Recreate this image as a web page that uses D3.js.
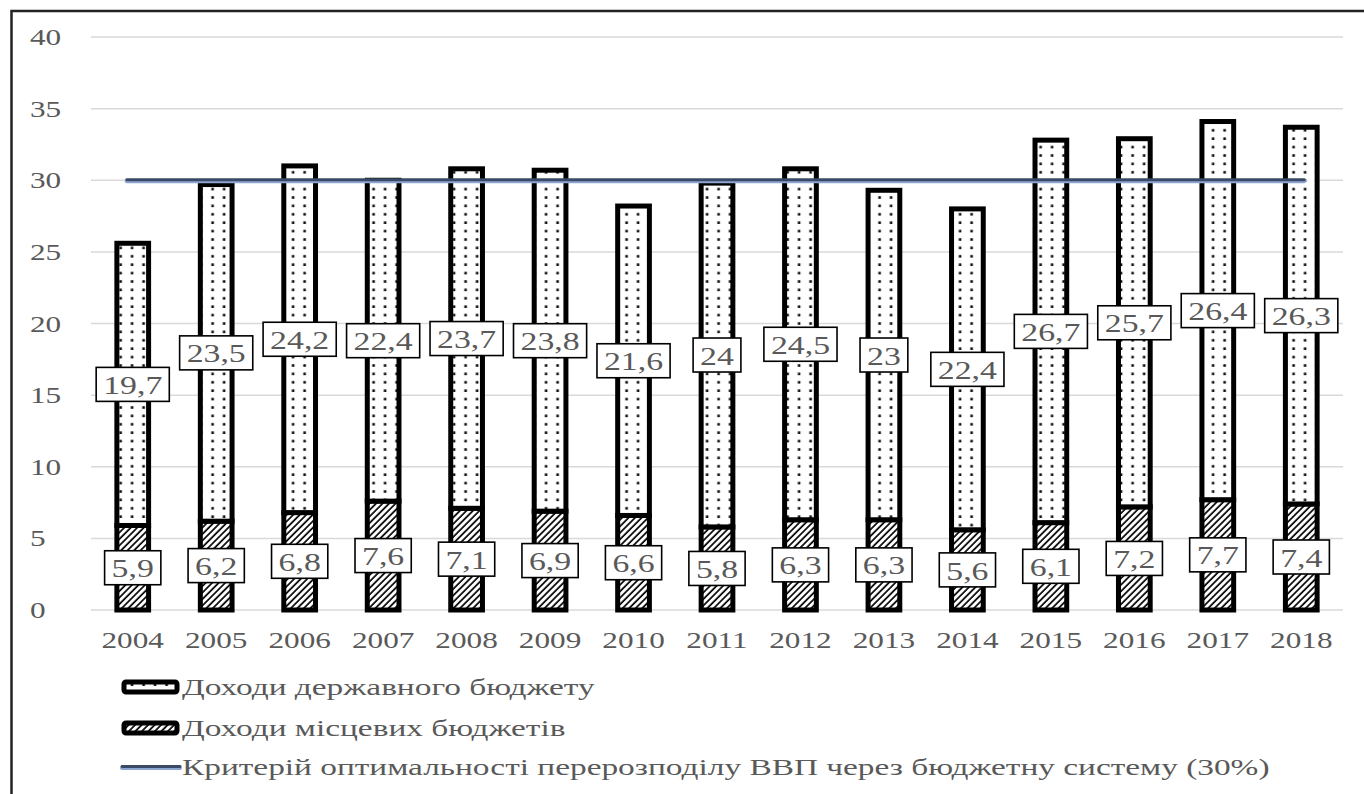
<!DOCTYPE html>
<html><head><meta charset="utf-8">
<script src="https://cdn.jsdelivr.net/npm/d3@7"></script>
<style>html,body{margin:0;padding:0;background:#fff;}svg{display:block;}</style>
</head><body>
<svg id="chart" width="1364" height="794"></svg>
<script>
const years = ["2004","2005","2006","2007","2008","2009","2010","2011","2012","2013","2014","2015","2016","2017","2018"];
const localRevenue = [5.9,6.2,6.8,7.6,7.1,6.9,6.6,5.8,6.3,6.3,5.6,6.1,7.2,7.7,7.4];
const stateRevenue = [19.7,23.5,24.2,22.4,23.7,23.8,21.6,24,24.5,23,22.4,26.7,25.7,26.4,26.3];
const criterionValue = 30;
const yTicks = [0,5,10,15,20,25,30,35,40];
const legendLabels = ["Доходи державного бюджету","Доходи місцевих бюджетів","Критерій оптимальності перерозподілу ВВП через бюджетну систему (30%)"];

const FONT = "'Liberation Serif','Times New Roman',serif";
const TXT = "#595959";

const svg = d3.select("#chart");
const defs = svg.append("defs");
const hatch = defs.append("pattern").attr("id","hatch").attr("patternUnits","userSpaceOnUse")
  .attr("width",4.6).attr("height",4.6).attr("patternTransform","rotate(45)");
hatch.append("rect").attr("width",4.6).attr("height",4.6).attr("fill","#fff");
hatch.append("line").attr("x1",1).attr("y1",0).attr("x2",1).attr("y2",4.6).attr("stroke","#000").attr("stroke-width",1.7);
const dots = defs.append("pattern").attr("id","dots").attr("patternUnits","userSpaceOnUse")
  .attr("width",11.5).attr("height",8.4);
dots.append("rect").attr("width",11.5).attr("height",8.4).attr("fill","#fff");
dots.append("rect").attr("x",4.3).attr("y",3).attr("width",2.6).attr("height",2.6).attr("fill","#111");

// frame
svg.append("rect").attr("x",11.5).attr("y",11).attr("width",1400).attr("height",820)
  .attr("fill","none").attr("stroke","#222").attr("stroke-width",2.5);

const x = d3.scaleBand().domain(years).range([91,1343]).paddingInner(0.62).paddingOuter(0.31);
const y = d3.scaleLinear().domain([0,40]).range([610,37]);

function addText(g, px, py, str, size, anchor, sx){
  return g.append("text").attr("transform",`translate(${px},${py}) scale(${sx},1)`)
    .attr("text-anchor",anchor).attr("dominant-baseline","central")
    .attr("font-family",FONT).attr("font-size",size).attr("fill",TXT).text(str);
}

// grid
const grid = svg.append("g");
grid.selectAll("line").data(yTicks).join("line")
  .attr("x1",x.range()[0]).attr("x2",x.range()[1])
  .attr("y1",d=>y(d)).attr("y2",d=>y(d))
  .attr("stroke","#d9d9d9").attr("stroke-width",1.5);

// y labels
const yAxisG = svg.append("g");
yTicks.forEach(t=>addText(yAxisG, 30, y(t), String(t), 23.5, "start", 1.33));

// x labels
const xAxisG = svg.append("g");
years.forEach(yr=>addText(xAxisG, x(yr)+x.bandwidth()/2, 640, yr, 23.5, "middle", 1.33));

// bars
const stack = years.map((yr,i)=>({yr, local:localRevenue[i], state:stateRevenue[i]}));
const bars = svg.append("g");
bars.selectAll("rect.local").data(stack).join("rect").attr("class","local")
  .attr("x",d=>x(d.yr)).attr("width",x.bandwidth())
  .attr("y",d=>y(d.local)).attr("height",d=>y(0)-y(d.local))
  .attr("fill","url(#hatch)").attr("stroke","#000").attr("stroke-width",5);
bars.selectAll("rect.state").data(stack).join("rect").attr("class","state")
  .attr("x",d=>x(d.yr)).attr("width",x.bandwidth())
  .attr("y",d=>y(d.local+d.state)).attr("height",d=>y(d.local)-y(d.local+d.state))
  .attr("fill","url(#dots)").attr("stroke","#000").attr("stroke-width",5);

// criterion line
const lineG = svg.append("g");
const x0 = x(years[0])+x.bandwidth()/2 - 6, x1 = x(years[years.length-1])+x.bandwidth()/2 + 3;
lineG.append("line").attr("x1",x0).attr("x2",x1).attr("y1",y(criterionValue)+1).attr("y2",y(criterionValue)+1)
  .attr("stroke","#8ea6cf").attr("stroke-width",4).attr("stroke-linecap","round");
lineG.append("line").attr("x1",x0).attr("x2",x1).attr("y1",y(criterionValue)-0.5).attr("y2",y(criterionValue)-0.5)
  .attr("stroke","#3a4a66").attr("stroke-width",2.8).attr("stroke-linecap","round");

// data labels
const fmt = v => String(v).replace(".", ",");
const labels = svg.append("g");
function boxLabel(cx, cy, str){
  const g = labels.append("g");
  const r = g.append("rect");
  const t = addText(g, cx, cy+1, str, 26, "middle", 1.3);
  const w = t.node().getBBox().width*1.3 + 14;
  const h = 34;
  r.attr("x",cx-w/2).attr("y",cy-h/2).attr("width",w).attr("height",h)
   .attr("fill","#fff").attr("stroke","#000").attr("stroke-width",1.6);
}
stack.forEach(d=>{
  const cx = x(d.yr)+x.bandwidth()/2;
  boxLabel(cx, y(d.local/2), fmt(d.local));
  boxLabel(cx, y(d.local+d.state/2), fmt(d.state));
});

// legend
const leg = svg.append("g");
const legY = [687,728,767];
leg.append("rect").attr("x",124).attr("y",legY[0]-5).attr("width",53).attr("height",10).attr("rx",2)
  .attr("fill","url(#dots)").attr("stroke","#000").attr("stroke-width",5);
leg.append("rect").attr("x",124).attr("y",legY[1]-5).attr("width",53).attr("height",10).attr("rx",2)
  .attr("fill","url(#hatch)").attr("stroke","#000").attr("stroke-width",5);
leg.append("line").attr("x1",122).attr("x2",180).attr("y1",legY[2]+1).attr("y2",legY[2]+1)
  .attr("stroke","#8ea6cf").attr("stroke-width",4).attr("stroke-linecap","round");
leg.append("line").attr("x1",122).attr("x2",180).attr("y1",legY[2]-0.5).attr("y2",legY[2]-0.5)
  .attr("stroke","#3a4a66").attr("stroke-width",2.8).attr("stroke-linecap","round");
legendLabels.forEach((s,i)=>addText(leg, 182, legY[i], s, 24, "start", 1.39));
</script>
</body></html>
